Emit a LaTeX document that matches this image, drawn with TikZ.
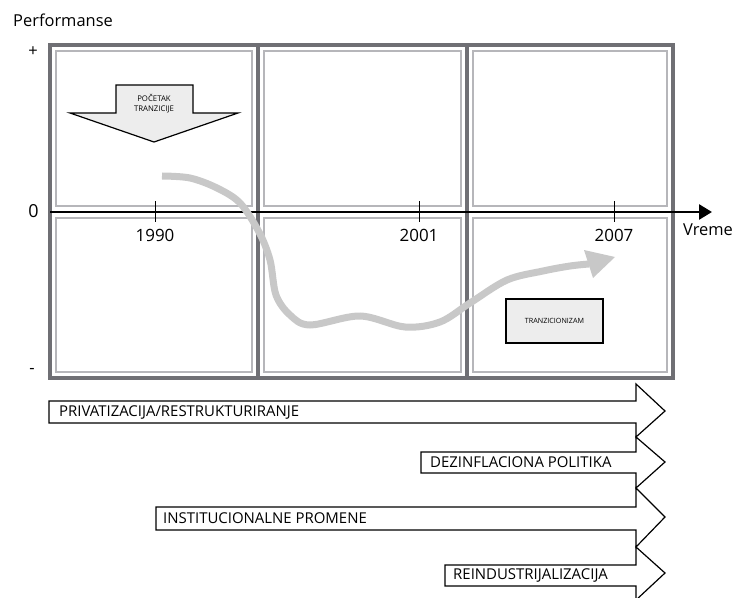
\documentclass[tikz,border=0pt]{standalone}
\usepackage{fontspec}
\setmainfont{Open Sans}
\usetikzlibrary{arrows.meta}
\definecolor{framedark}{HTML}{6F6F74}
\definecolor{framelight}{HTML}{B6B6BA}
\definecolor{curvegray}{HTML}{C8C8C8}
\definecolor{boxfill}{HTML}{EDEDED}
\tikzset{
  darkline/.style={draw=framedark,line width=3.3bp},
  lightbox/.style={draw=framelight,line width=2.3bp},
  biglabel/.style={font=\fontsize{16.5}{19}\selectfont,inner sep=0pt},
  barlabel/.style={font=\fontsize{15}{17}\selectfont,inner sep=0pt,anchor=west},
  barshape/.style={draw=black,fill=white,line width=1.2bp,line join=miter},
  smallbox/.style={draw=black,fill=boxfill,line width=1.4bp},
  ticklabel/.style={font=\fontsize{17}{19}\selectfont,inner sep=0pt,anchor=base},
}
\begin{document}
\begin{tikzpicture}[x=1bp,y=-1bp]
\useasboundingbox (0,0) rectangle (733,598);
% cells
\foreach \xa/\xb in {50/258,258/467,467/673}{
  \foreach \ya/\yb in {45/212,212/378}{
    \draw[lightbox] (\xa+6,\ya+6) rectangle (\xb-6,\yb-6);
  }
}
\draw[darkline] (50,45) rectangle (673,378);
\draw[darkline] (258,45) -- (258,378);
\draw[darkline] (467,45) -- (467,378);
% axis
\coordinate (axstart) at (50,212);
\coordinate (axend) at (712,212);
\draw[line width=2.6bp,-{Triangle[length=13bp,width=15bp]}] (axstart) -- (axend);
\foreach \x/\yr/\n in {155/1990/a,419/2001/b,614/2007/c}{
  \coordinate (tt\n) at (\x,201);
  \coordinate (tb\n) at (\x,222);
  \draw[line width=1bp] (tt\n) -- (tb\n);
  \node[ticklabel] (yr\n) at (\x,241) {\yr};
}
\node[biglabel,anchor=base west] (perf) at (13,27) {Performanse};
\node[biglabel] (plus) at (33,52) {+};
\node[biglabel,font=\fontsize{18}{20}\selectfont] (zero) at (33.5,211.5) {0};
\node[biglabel] (minus) at (32,371) {-};
\node[biglabel,anchor=base west] (vreme) at (683,235) {Vreme};
% start arrow
\draw[smallbox,line width=1.2bp,line join=miter] (116,85) -- (193,85) -- (193,113) -- (238,113) -- (154,142) -- (70,113) -- (116,113) -- cycle;
\node[font=\fontsize{7.8}{10}\selectfont,align=center,inner sep=0pt] (pocetak) at (154,104) {POČETAK\\TRANZICIJE};
% curve
\draw[curvegray,line width=7bp] plot[smooth,tension=0.55] coordinates {(162,176) (190,178) (217,188) (240,203) (259,232) (270,260) (276,295) (290,315) (310,325) (360,316) (405,327) (440,322) (470,303) (507,280) (543,271) (570,266) (589,264)};
\fill[curvegray] (584,250) -- (615,257) -- (593,278) -- cycle;
% tranzicionizam box
\node[smallbox,minimum width=97bp,minimum height=44bp,inner sep=0pt,font=\fontsize{7.2}{8}\selectfont] (tranz) at (554.5,321) {TRANZICIONIZAM};
% bottom arrows
\draw[barshape] (49,401) -- (636,401) -- (636,384) -- (665,411) -- (636,437) -- (636,423) -- (49,423) -- cycle;
\node[barlabel] (privat) at (59,412) {PRIVATIZACIJA/RESTRUKTURIRANJE};
\draw[barshape] (421,452) -- (636,452) -- (636,437) -- (665,462) -- (636,488) -- (636,473) -- (421,473) -- cycle;
\node[barlabel] (dezinf) at (430,462.5) {DEZINFLACIONA POLITIKA};
\draw[barshape] (156,507) -- (636,507) -- (636,488) -- (665,517) -- (636,547) -- (636,530) -- (156,530) -- cycle;
\node[barlabel] (instit) at (163,518.5) {INSTITUCIONALNE PROMENE};
\draw[barshape] (445,565) -- (636,565) -- (636,547) -- (665,573) -- (636,600) -- (636,586) -- (445,586) -- cycle;
\node[barlabel] (reind) at (453,575.5) {REINDUSTRIJALIZACIJA};
\end{tikzpicture}
\end{document}
